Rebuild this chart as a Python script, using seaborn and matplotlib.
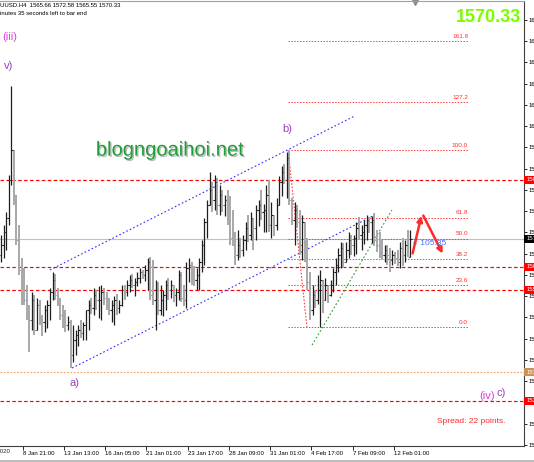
import numpy as np
import pandas as pd
import matplotlib
matplotlib.use("Agg")
import matplotlib.pyplot as plt
import matplotlib.patheffects as pe
import seaborn as sns

# H4 bars (price units)
highs = [1571.4, 1574.0, 1577.5, 1587.3, 1610.9, 1593.9, 1582.0, 1574.0, 1565.3, 1562.6,
         1558.1, 1552.8, 1556.3, 1555.5, 1554.7, 1554.2, 1550.2, 1552.8, 1554.2, 1557.3,
         1561.6, 1561.0, 1557.3, 1554.7, 1552.8, 1551.5, 1549.9, 1548.8, 1547.5, 1546.2,
         1547.5, 1548.8, 1548.3, 1549.4, 1554.2, 1554.7, 1557.3, 1556.8, 1557.9, 1558.1,
         1557.3, 1556.3, 1554.7, 1554.2, 1555.2, 1555.7, 1554.2, 1558.1, 1558.1, 1559.5,
         1560.8, 1561.0, 1560.0, 1561.6, 1562.6, 1562.1, 1563.4, 1565.3, 1565.5, 1564.8,
         1559.5, 1558.9, 1558.1, 1556.8, 1559.5, 1560.0, 1559.5, 1558.1, 1557.3, 1562.1,
         1561.6, 1558.1, 1564.2, 1565.3, 1564.2, 1563.2, 1562.6, 1565.3, 1570.1, 1575.9,
         1580.7, 1588.1, 1585.5, 1587.3, 1586.5, 1584.6, 1583.3, 1582.0, 1583.3, 1581.7,
         1578.0, 1572.2, 1572.7, 1570.6, 1571.4, 1574.8, 1576.7, 1577.5, 1574.8, 1579.3,
         1580.7, 1583.3, 1579.6, 1584.6, 1586.0, 1580.1, 1576.7, 1581.2, 1587.0, 1589.7,
         1590.2, 1593.4, 1593.9, 1581.2, 1580.1, 1579.3, 1578.0, 1576.7, 1574.8, 1570.6,
         1561.6, 1558.1, 1556.8, 1560.8, 1562.1, 1558.1, 1560.0, 1557.9, 1559.5, 1562.6,
         1565.3, 1567.9, 1569.5, 1569.3, 1569.5, 1572.2, 1571.4, 1571.4, 1574.8, 1576.2,
         1574.0, 1575.4, 1576.7, 1576.2, 1576.4, 1577.2, 1572.7, 1572.2, 1570.1, 1568.7,
         1568.7, 1567.9, 1567.4, 1566.9, 1567.4, 1569.5, 1570.6, 1570.1, 1572.7, 1572.58]
lows = [1564.2, 1565.3, 1567.4, 1574.0, 1584.6, 1579.3, 1568.7, 1560.8, 1552.8, 1552.8,
        1548.8, 1540.3, 1546.2, 1544.8, 1546.7, 1547.5, 1544.6, 1545.6, 1546.7, 1548.8,
        1554.2, 1554.2, 1552.6, 1548.8, 1546.7, 1545.6, 1546.2, 1536.1, 1537.7, 1539.5,
        1541.9, 1544.0, 1543.5, 1543.5, 1546.2, 1550.4, 1550.2, 1551.5, 1549.4, 1548.8,
        1552.8, 1551.5, 1550.2, 1548.3, 1547.5, 1550.2, 1550.7, 1552.6, 1554.2, 1555.2,
        1556.3, 1557.3, 1555.2, 1557.9, 1558.7, 1559.7, 1559.2, 1556.8, 1554.2, 1552.8,
        1546.2, 1550.2, 1550.2, 1549.9, 1551.5, 1554.2, 1554.7, 1553.6, 1552.6, 1554.2,
        1553.6, 1552.6, 1552.0, 1558.9, 1558.1, 1557.9, 1556.8, 1556.8, 1561.6, 1563.4,
        1570.6, 1579.3, 1577.5, 1578.0, 1576.7, 1576.7, 1577.5, 1576.4, 1574.0, 1568.7,
        1568.5, 1563.4, 1564.8, 1565.3, 1565.8, 1567.4, 1569.5, 1570.1, 1567.4, 1570.1,
        1573.8, 1575.4, 1572.2, 1572.2, 1572.2, 1570.6, 1571.1, 1572.7, 1580.1, 1581.7,
        1584.9, 1581.2, 1579.3, 1574.0, 1568.7, 1573.2, 1566.1, 1564.8, 1564.2, 1556.8,
        1548.8, 1550.2, 1552.0, 1553.1, 1547.0, 1550.7, 1554.2, 1553.4, 1555.2, 1556.3,
        1558.1, 1561.6, 1562.6, 1562.6, 1564.2, 1565.3, 1566.1, 1565.8, 1566.3, 1570.1,
        1567.4, 1569.0, 1570.1, 1571.9, 1569.3, 1568.5, 1566.9, 1565.3, 1564.8, 1564.2,
        1563.4, 1561.6, 1563.4, 1563.7, 1563.2, 1562.6, 1563.2, 1564.2, 1565.5, 1565.55]
closes = [1568.7, 1572.2, 1575.9, 1586.0, 1593.9, 1582.0, 1570.1, 1562.1, 1555.5, 1554.2,
          1550.2, 1548.8, 1554.2, 1546.2, 1552.8, 1549.4, 1548.3, 1551.5, 1552.8, 1556.3,
          1559.5, 1555.5, 1554.2, 1550.2, 1549.4, 1547.5, 1548.3, 1539.5, 1543.5, 1544.8,
          1546.2, 1545.4, 1547.5, 1551.5, 1552.8, 1552.0, 1555.5, 1554.2, 1554.2, 1556.3,
          1554.7, 1552.8, 1551.5, 1552.8, 1554.2, 1552.0, 1552.8, 1556.8, 1556.3, 1558.1,
          1559.5, 1558.1, 1558.9, 1560.0, 1561.6, 1560.8, 1562.1, 1564.2, 1555.5, 1554.2,
          1556.8, 1551.5, 1554.2, 1555.5, 1558.1, 1556.8, 1558.1, 1555.5, 1556.3, 1560.8,
          1554.7, 1554.2, 1562.6, 1563.4, 1560.0, 1559.5, 1560.8, 1564.2, 1568.7, 1574.8,
          1579.3, 1583.3, 1580.7, 1585.5, 1579.3, 1582.0, 1579.3, 1580.7, 1575.4, 1570.6,
          1570.1, 1566.1, 1568.7, 1567.4, 1570.1, 1573.2, 1571.4, 1575.9, 1573.2, 1578.0,
          1579.3, 1577.5, 1578.0, 1582.0, 1574.0, 1576.7, 1574.0, 1579.3, 1585.5, 1588.1,
          1586.0, 1591.8, 1580.7, 1575.4, 1578.0, 1574.8, 1568.7, 1574.8, 1565.3, 1558.9,
          1551.5, 1555.5, 1554.2, 1556.8, 1559.5, 1554.2, 1558.1, 1555.5, 1558.1, 1561.6,
          1563.4, 1566.1, 1567.9, 1564.2, 1567.4, 1570.1, 1568.7, 1570.6, 1573.2, 1571.4,
          1572.2, 1574.0, 1575.4, 1574.8, 1575.4, 1570.1, 1568.7, 1566.9, 1566.1, 1567.4,
          1566.1, 1564.8, 1566.1, 1565.3, 1564.2, 1567.9, 1566.1, 1568.7, 1565.66, 1570.33]
first_open = 1566.0
last_price = 1570.33

date_ticks = [8.5, 24.5, 40.5, 56.5, 72.5, 88.5, 104.5, 120.5, 136.5, 152.5]
date_labels = ["8 Jan 21:00", "13 Jan 13:00", "16 Jan 05:00", "21 Jan 01:00",
               "23 Jan 17:00", "28 Jan 09:00", "31 Jan 01:00", "4 Feb 17:00",
               "7 Feb 09:00", "12 Feb 01:00"]
price_ticks = [1628.42, 1622.78, 1617.15, 1611.51, 1605.87, 1600.24, 1594.60,
               1588.96, 1583.33, 1577.69, 1572.05, 1566.42, 1560.78, 1555.14,
               1549.51, 1543.87, 1538.23, 1532.60, 1526.96, 1521.32, 1515.69]

red_levels = [1586.0, 1562.9, 1556.8, 1527.4]
orange_level = 1535.0

fib_low, fib_high = 1547.0, 1593.9
fib_ratios = [0.0, 23.6, 38.2, 50.0, 61.8, 100.0, 127.2, 161.8]

upper_channel = ([19.0, 137.5], [1562.1, 1603.0])
lower_channel = ([27.6, 145.2], [1536.1, 1576.7])
green_line = ([120.8, 151.8], [1542.2, 1578.0])
fib_diag = ([111.5, 118.8], [1593.9, 1547.0])

wave_labels = [("(iii)", 3.5, 1623.9, "#e23ce2"), ("v)", 3.1, 1616.2, "#9b3fb5"),
               ("b)", 111.1, 1599.5, "#9b3fb5"), ("a)", 28.7, 1532.1, "#9b3fb5"),
               ("(iv)", 188.7, 1528.7, "#e23ce2"), ("c)", 194.2, 1529.5, "#9b3fb5")]

sns.set_theme(style="white")
plt.rcParams["font.family"] = ["Liberation Sans", "DejaVu Sans"]

fig = plt.figure(figsize=(5.34, 4.62), dpi=100)
ax = fig.add_axes([0, 16 / 462, 524 / 534, 445 / 462])
ax.set_xlim(-0.39, 203.1)
ax.set_ylim(1515.42, 1633.45)

bars = pd.DataFrame({"high": highs, "low": lows, "close": closes})
bars["open"] = [first_open] + closes[:-1]
bars["idx"] = np.arange(len(bars))
bars["top"] = bars[["high", "open", "close"]].max(axis=1)
bars["bot"] = bars[["low", "open", "close"]].min(axis=1)
up = bars[bars["close"] >= bars["open"]]
dn = bars[bars["close"] < bars["open"]]

# horizontal levels behind the bars
ax.axhline(last_price, color="#c0c0c0", lw=0.8, zorder=1)
for lvl in red_levels:
    ax.axhline(lvl, color="#ff0000", lw=0.85, ls=(0, (3, 2)), zorder=1)
ax.axhline(orange_level, color="#f0a060", lw=0.8, ls=(0, (1.5, 1.5)), zorder=1)

for r in fib_ratios:
    lvl = fib_low + (fib_high - fib_low) * r / 100
    ax.hlines(lvl, 111.5, 181.4, color="#ff4040", lw=0.7, ls=(0, (1.5, 1.5)), zorder=1)
    ax.text(181.4, lvl + 0.6, f"{r:.1f}", color="#ff3030", fontsize=4.6,
            ha="right", va="bottom")

# bars
ax.vlines(dn["idx"], dn["bot"], dn["top"], color="#a8a8a8", lw=1.4, zorder=3)
ax.hlines(dn["open"], dn["idx"] - 0.5, dn["idx"], color="#a8a8a8", lw=0.8, zorder=3)
ax.hlines(dn["close"], dn["idx"], dn["idx"] + 0.5, color="#a8a8a8", lw=0.8, zorder=3)
ax.vlines(up["idx"], up["bot"], up["top"], color="#1e1e1e", lw=0.9, zorder=4)
ax.hlines(up["open"], up["idx"] - 0.5, up["idx"], color="#1e1e1e", lw=0.8, zorder=4)
ax.hlines(up["close"], up["idx"], up["idx"] + 0.5, color="#1e1e1e", lw=0.8, zorder=4)

# trend lines
sns.lineplot(x=upper_channel[0], y=upper_channel[1], ax=ax, color="#3030ff",
             lw=0.8, linestyle=(0, (1.5, 2)), zorder=2)
sns.lineplot(x=lower_channel[0], y=lower_channel[1], ax=ax, color="#3030ff",
             lw=0.8, linestyle=(0, (1.5, 2)), zorder=2)
sns.lineplot(x=green_line[0], y=green_line[1], ax=ax, color="#2e9a2e",
             lw=0.8, linestyle=(0, (1.5, 2)), zorder=2)
sns.lineplot(x=fib_diag[0], y=fib_diag[1], ax=ax, color="#ff4040",
             lw=0.8, linestyle=(0, (1.5, 1.5)), zorder=2)

# projection arrows
ax.annotate("", xy=(163.5, 1577.2), xytext=(159.6, 1565.8),
            arrowprops=dict(arrowstyle="-|>", color="#ff2a2a", lw=1.8, mutation_scale=8))
ax.annotate("", xy=(172.0, 1565.8), xytext=(163.5, 1577.2),
            arrowprops=dict(arrowstyle="-|>", color="#ff2a2a", lw=1.8, mutation_scale=8))
ax.text(160.0, 1569.0, "< 105:35", color="#4a6cf0", fontsize=6, ha="left", va="center")

for txt, xi, yp, col in wave_labels:
    ax.text(xi, yp, txt, color=col, fontsize=8, ha="center", va="center")

ax.text(65.6, 1593.9, "blogngoaihoi.net", color="#1f9e3a", fontsize=14.5,
        ha="center", va="center",
        path_effects=[pe.withSimplePatchShadow(offset=(1, -1), shadow_rgbFace="#7a7a7a", alpha=0.5)])
ax.text(0.933, 0.964, "1570.33", color="#7cfc00", fontsize=13, fontweight="bold",
        ha="center", va="center", transform=ax.transAxes)
ax.text(0.899, 0.054, "Spread: 22 points.", color="#ff2a2a", fontsize=6,
        ha="center", va="center", transform=ax.transAxes)
ax.text(0.0, 0.989, "UUSD.H4  1565.66 1572.58 1565.55 1570.33", color="black",
        fontsize=4.3, ha="left", va="center", transform=ax.transAxes)
ax.text(0.0, 0.971, "inutes 35 seconds left to bar end", color="black",
        fontsize=4.3, ha="left", va="center", transform=ax.transAxes)
ax.plot([415 / 524], [0.998], marker="v", color="#8a8a8a", markersize=4,
        transform=ax.transAxes, clip_on=False)

# price boxes on the right scale
for lvl in red_levels:
    ax.text(1.004, lvl, f"{lvl:.2f}", color="white", fontsize=4.3, ha="left", va="center",
            transform=ax.get_yaxis_transform(), clip_on=False,
            bbox=dict(facecolor="#ff0000", edgecolor="none", pad=1.2))
ax.text(1.004, orange_level, f"{orange_level:.2f}", color="white", fontsize=4.3,
        ha="left", va="center", transform=ax.get_yaxis_transform(), clip_on=False,
        bbox=dict(facecolor="#c8925a", edgecolor="none", pad=1.2))
ax.text(1.004, last_price, f"{last_price:.2f}", color="white", fontsize=4.3,
        ha="left", va="center", transform=ax.get_yaxis_transform(), clip_on=False,
        bbox=dict(facecolor="#000000", edgecolor="none", pad=1.2))

# axes
ax.yaxis.tick_right()
ax.set_yticks(price_ticks)
ax.set_yticklabels([f"{p:.2f}" for p in price_ticks])
ax.set_xticks(date_ticks)
ax.set_xticklabels(date_labels, ha="left")
ax.tick_params(axis="y", right=True, length=2, width=0.6, pad=1, labelsize=4.3, colors="black")
ax.tick_params(axis="x", bottom=True, length=3, width=0.6, pad=0.5, labelsize=4.3, colors="black")
ax.text(10 / 524, -0.007, "7 Jan 2020", fontsize=4.3, ha="right", va="top",
        transform=ax.transAxes, clip_on=False)
ax.spines["left"].set_visible(False)
ax.spines["top"].set_color("#a0a0a0")
ax.spines["right"].set_color("#404040")
ax.spines["bottom"].set_color("#404040")
for s in ["top", "right", "bottom"]:
    ax.spines[s].set_linewidth(0.8)
ax.grid(False)

fig.add_artist(plt.Line2D([0, 1], [1.5 / 462, 1.5 / 462], color="#b0b0b0", lw=1.2))

fig.savefig("out.png", dpi=100)
